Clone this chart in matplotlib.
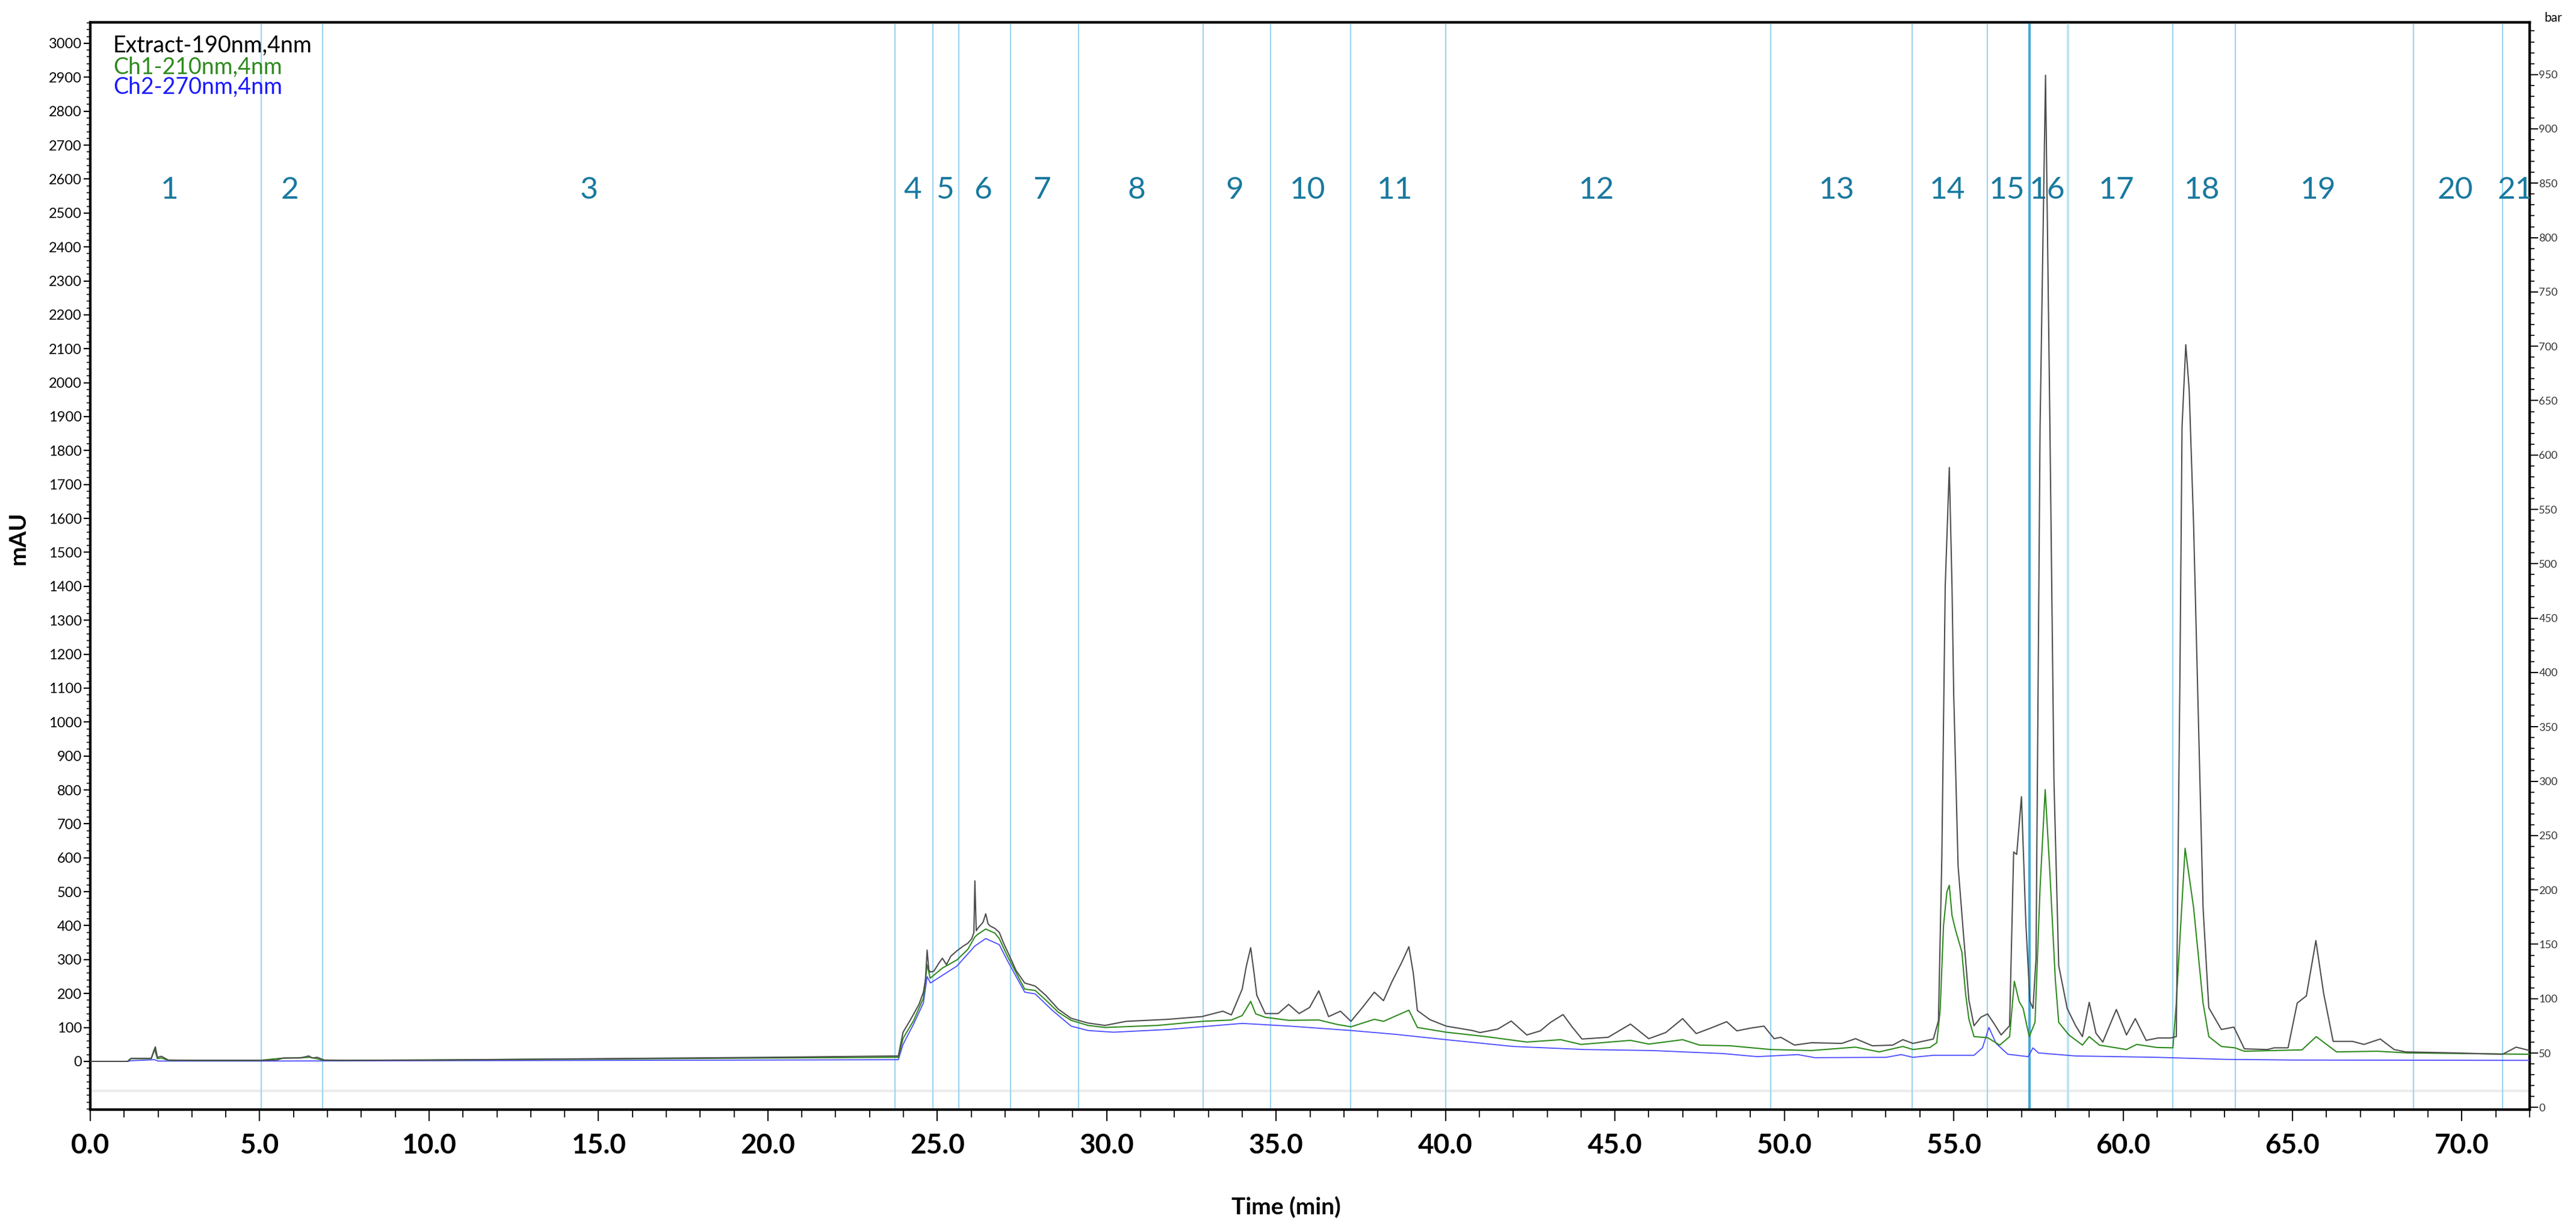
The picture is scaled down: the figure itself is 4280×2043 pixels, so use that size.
import matplotlib
matplotlib.use("Agg")
import matplotlib.pyplot as plt
from matplotlib.ticker import MultipleLocator, FormatStrFormatter

plt.rcParams['font.family'] = ['Lato', 'DejaVu Sans']

# ---- chromatogram traces (time in min, signal in mAU) ----
t_190 = [0, 1.1, 1.2, 1.8, 1.87, 1.92, 1.98, 2.1, 2.3, 3.0, 5.0, 5.5, 5.7, 6.2, 6.45,
         6.55, 6.7, 6.9, 7.5, 10, 15, 20, 23.0, 23.85,
         23.99, 24.21, 24.46, 24.59, 24.65, 24.7, 24.75, 24.79, 24.9, 25.05, 25.15, 25.27,
         25.4, 25.58, 25.77, 25.9, 26.02, 26.08, 26.11, 26.15, 26.21, 26.35, 26.43, 26.5,
         26.58, 26.7, 26.83, 26.95, 27.08, 27.33, 27.58, 27.75, 27.89, 28.2, 28.57, 28.95,
         29.45, 29.95, 30.57, 31.81, 32.81, 33.43, 33.68, 34.0, 34.12, 34.25, 34.35, 34.43,
         34.68, 35.06, 35.37, 35.68, 35.99, 36.26, 36.55, 36.9, 37.21, 37.55, 37.9, 38.17,
         38.42, 38.7, 38.92, 39.05, 39.17, 39.54, 40.02, 40.79, 41.02, 41.54, 41.94, 42.4,
         42.8, 43.1, 43.47, 43.75, 44.03, 44.8, 45.46, 46.0, 46.5, 47.0, 47.4, 47.8, 48.3,
         48.6, 49.0, 49.4, 49.7, 49.9, 50.3, 50.8, 51.7, 52.1, 52.6, 53.2, 53.5, 53.8,
         54.4, 54.55, 54.65, 54.75, 54.87, 54.95, 55.0, 55.13, 55.28, 55.45, 55.6, 55.8,
         56.0, 56.2, 56.4, 56.65, 56.72, 56.77, 56.86, 57.0, 57.13, 57.25, 57.34, 57.43,
         57.55, 57.71, 57.84, 57.96, 58.1, 58.35, 58.6, 58.8, 59.0, 59.2, 59.4, 59.8,
         60.1, 60.36, 60.68, 61.03, 61.4, 61.57, 61.68, 61.74, 61.85, 61.95, 62.08, 62.22,
         62.36, 62.53, 62.9, 63.27, 63.58, 64.26, 64.46, 64.87, 65.14, 65.41, 65.69, 65.92,
         66.2, 66.77, 67.11, 67.59, 68.0, 68.34, 69.8, 71.2, 71.6, 72.0]
a_190 = [0, 0, 9, 9, 30, 43, 12, 15, 4, 3, 3, 4, 10, 10, 16,
         10, 12, 4, 3, 4, 8, 12, 15, 16,
         86, 123, 168, 204, 240, 328, 270, 263, 266, 290, 304, 285,
         310, 326, 340, 348, 362, 380, 532, 385, 394, 410, 435, 405,
         398, 392, 380, 350, 322, 267, 231, 226, 222, 195, 154, 127,
         113, 106, 118, 124, 132, 148, 137, 213, 280, 335, 260, 195,
         141, 141, 168, 141, 159, 208, 132, 148, 118, 159, 204, 179,
         235, 290, 338, 260, 150, 123, 104, 91, 85, 95, 119, 78,
         90, 115, 138, 100, 66, 71, 110, 67, 85, 126, 82, 97, 117,
         90, 98, 104, 67, 71, 48, 55, 53, 67, 46, 48, 64, 53,
         66, 120, 600, 1400, 1750, 1400, 1085, 576, 385, 180, 105, 130,
         140, 110, 78, 105, 400, 617, 610, 780, 408, 177, 156, 303,
         1871, 2906, 1871, 826, 282, 156, 105, 73, 174, 83, 57, 153,
         78, 126, 62, 69, 69, 73, 1161, 1869, 2112, 1980, 1585, 1020,
         454, 158, 94, 101, 37, 35, 40, 40, 172, 193, 356, 200,
         59, 59, 50, 66, 35, 28, 25, 21, 42, 32]

t_210 = [0, 1.1, 1.2, 1.8, 1.9, 1.98, 2.1, 2.3, 5.0, 5.6, 6.5, 6.9, 10, 15, 20, 23.85,
         23.99, 24.3, 24.59, 24.7, 24.79, 25.15, 25.58, 25.9, 26.11, 26.2, 26.43, 26.7,
         26.83, 27.08, 27.58, 27.89, 28.2, 28.57, 28.95, 29.45, 29.95, 31.5, 32.81, 33.68,
         34.0, 34.25, 34.4, 34.68, 35.37, 36.26, 36.8, 37.21, 37.9, 38.17, 38.92, 39.17,
         40.02, 41.2, 42.4, 43.4, 44.0, 45.46, 46.0, 47.0, 47.5, 48.4, 49.6, 50.8, 52.1,
         52.8, 53.5, 53.8, 54.3, 54.5, 54.6, 54.7, 54.8, 54.87, 54.95, 55.06, 55.24, 55.35,
         55.45, 55.6, 56.0, 56.36, 56.65, 56.79, 56.93, 57.05, 57.23, 57.4, 57.55, 57.7,
         57.84, 58.0, 58.1, 58.4, 58.8, 59.0, 59.3, 60.1, 60.4, 61.0, 61.47, 61.57, 61.83,
         62.08, 62.36, 62.53, 62.9, 63.3, 63.58, 65.28, 65.7, 66.3, 67.5, 68.4, 72.0]
a_210 = [0, 0, 8, 8, 35, 8, 10, 3, 3, 9, 12, 3, 4, 7, 10, 12,
         68, 120, 186, 285, 245, 275, 299, 330, 367, 375, 390, 378,
         362, 308, 213, 209, 181, 145, 121, 106, 100, 106, 118, 122,
         135, 177, 140, 130, 121, 122, 109, 102, 124, 118, 151, 100,
         86, 73, 57, 64, 50, 62, 51, 64, 48, 46, 35, 32, 42,
         28, 44, 35, 41, 55, 150, 400, 500, 519, 430, 385, 323, 200,
         124, 73, 70, 48, 73, 236, 177, 156, 73, 115, 512, 801,
         555, 241, 115, 78, 48, 73, 48, 35, 50, 41, 40, 172, 628,
         454, 172, 73, 44, 40, 30, 34, 73, 28, 30, 25, 21]

t_270 = [0, 1.1, 1.2, 1.9, 2.0, 5.0, 10, 20, 23.85, 23.99, 24.3, 24.59, 24.7, 24.8,
         25.58, 26.11, 26.43, 26.83, 27.08, 27.58, 27.89, 28.4, 28.95, 29.45, 30.2, 31.81,
         34.0, 35.4, 37.21, 38.5, 40.02, 42.0, 44.1, 46.1, 48.2, 49.2, 50.4, 50.9, 53.0,
         53.45, 53.8, 54.4, 55.6, 55.85, 56.04, 56.25, 56.6, 57.2, 57.34, 57.5, 58.6,
         61.0, 63.0, 65.0, 72.0]
a_270 = [0, 0, 2, 5, 1, 1, 2, 4, 5, 50, 110, 172, 250, 231,
         281, 340, 362, 344, 295, 204, 199, 150, 104, 91, 86, 94,
         112, 104, 91, 80, 64, 44, 35, 32, 23, 14, 20, 11, 12,
         20, 12, 18, 18, 40, 100, 53, 21, 14, 40, 25, 16,
         12, 6, 4, 3]

# pump pressure trace (bar, right axis)
t_press = [0, 72]
p_press = [15, 15]

# fraction boundaries (min) and fraction numbers
cuts = [0, 5.04, 6.86, 23.75, 24.87, 25.63, 27.16, 29.17, 32.84, 34.83, 37.2, 40.0,
        49.6, 53.77, 56.0, 57.23, 58.37, 61.47, 63.32, 68.58, 71.2, 72.0]
fractions = [str(i) for i in range(1, 22)]

W, H, DPI = 4280, 2043, 100
fig = plt.figure(figsize=(W / DPI, H / DPI), dpi=DPI)
ax = fig.add_axes([150 / W, 1 - 1843 / H, (4203 - 150) / W, (1843 - 37) / H])
ax2 = ax.twinx()
ax.set_zorder(2)
ax.patch.set_visible(False)

ax2.plot(t_press, p_press, color="#ececec", lw=3, zorder=1)

# fraction cut lines
for c in cuts[1:-1]:
    if c == 57.23:
        ax.axvline(c, color="#4aa8d8", lw=3, zorder=1)
    elif c == 58.37:
        ax.axvline(c, color="#bfe3f5", lw=3, zorder=1)
    else:
        ax.axvline(c, color="#9ed3ef", lw=1.6, zorder=1)

for i, lab in enumerate(fractions):
    pos = cuts[i] + 0.465 * (cuts[i + 1] - cuts[i])
    ax.text(pos, 2567, lab, ha="center", va="center", fontsize=37,
            color="#19799f", clip_on=True, zorder=3)

ax.plot(t_270, a_270, color="#4a4aff", lw=1.3, zorder=4)
ax.plot(t_210, a_210, color="#2f8a1f", lw=1.5, zorder=5)
ax.plot(t_190, a_190, color="#4d4d4d", lw=1.5, zorder=6)

# channel names
ax.text(0.0094, 0.9723, "Extract-190nm,4nm", transform=ax.transAxes, fontsize=27,
        color="black", va="baseline")
ax.text(0.0094, 0.9524, "Ch1-210nm,4nm", transform=ax.transAxes, fontsize=27,
        color="#2f8a1f", va="baseline")
ax.text(0.0094, 0.9341, "Ch2-270nm,4nm", transform=ax.transAxes, fontsize=27,
        color="#1a1aff", va="baseline")

ax.set_xlim(0, 72)
ax.set_ylim(-142, 3062)
ax2.set_ylim(-2, 998)

ax.xaxis.set_major_locator(MultipleLocator(5))
ax.xaxis.set_minor_locator(MultipleLocator(1))
ax.xaxis.set_major_formatter(FormatStrFormatter("%.1f"))
ax.yaxis.set_minor_locator(MultipleLocator(20))
ax.set_yticks(range(0, 3001, 100))
ax2.set_yticks(range(0, 951, 50))
ax2.yaxis.set_minor_locator(MultipleLocator(10))

ax.tick_params(axis="x", which="major", length=14, width=1.5, labelsize=33, pad=14)
ax.tick_params(axis="x", which="minor", length=9, width=1.3)
ax.tick_params(axis="y", which="major", length=8, width=1.6, labelsize=17, pad=2)
ax.tick_params(axis="y", which="minor", length=4, width=1.6, color="#444444")
ax2.tick_params(axis="y", which="major", length=10, width=1.4, labelsize=13,
                labelcolor="#333333", pad=1)
ax2.tick_params(axis="y", which="minor", length=6, width=1.2)
for lab in ax.get_xticklabels():
    lab.set_fontweight("bold")

for a in (ax, ax2):
    for s in a.spines.values():
        s.set_linewidth(3)
ax2.spines["top"].set_linewidth(2.5)

fig.text(30 / W, 1 - 894 / H, "mAU", rotation=90, ha="center", va="center",
         fontsize=28, fontweight="bold")
fig.text(2137 / W, 1 - 2005 / H, "Time (min)", ha="center", va="center",
         fontsize=28, fontweight="bold")
fig.text(4242 / W, 1 - 30 / H, "bar", ha="center", va="center", fontsize=15)

fig.savefig("out.png", dpi=DPI)
